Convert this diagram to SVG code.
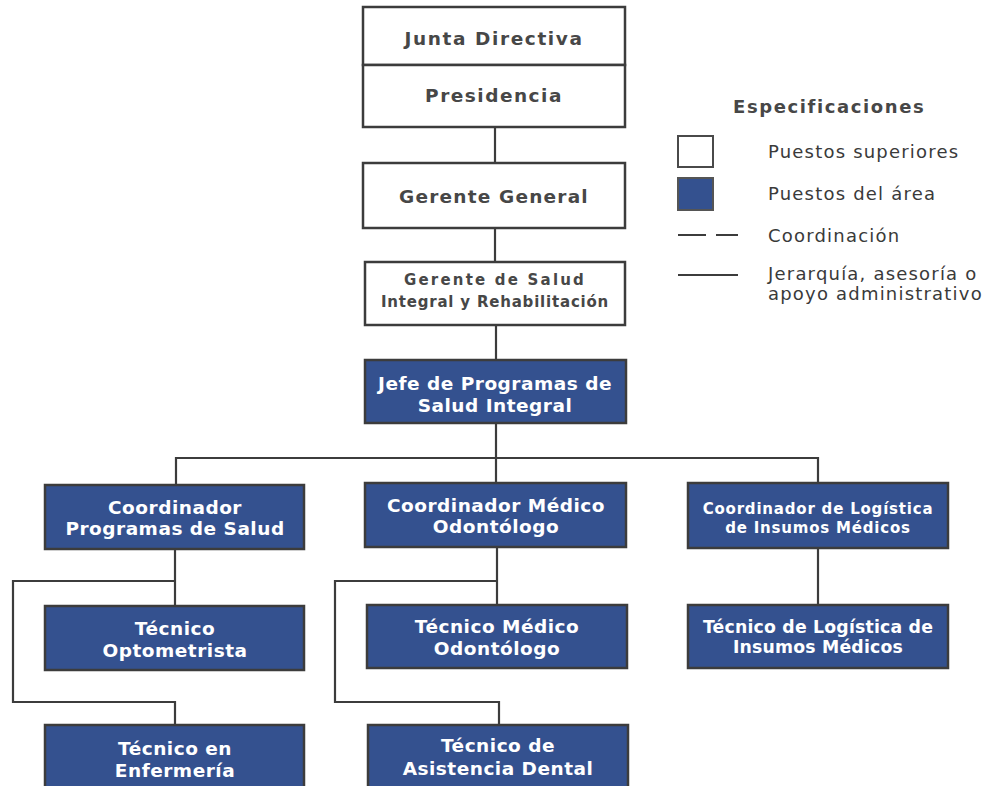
<svg xmlns="http://www.w3.org/2000/svg" width="995" height="786" viewBox="0 0 995 786">
<style>
.w{fill:#ffffff;stroke:#3c3c3c;stroke-width:2.5}
.b{fill:#34518f;stroke:#3c3c3c;stroke-width:2.5}
.tw{font-family:"DejaVu Sans",Verdana,sans-serif;font-weight:bold;fill:#474747;text-anchor:middle}
.tb{font-family:"DejaVu Sans",Verdana,sans-serif;font-weight:bold;fill:#ffffff;text-anchor:middle;font-size:18.5px;letter-spacing:0.5px}
.lg{font-family:"DejaVu Sans",Verdana,sans-serif;fill:#3a3a3a;font-size:18px;letter-spacing:1.2px}
.c{fill:none;stroke:#3c3c3c;stroke-width:2.2}
</style>
<rect width="995" height="786" fill="#ffffff"/>
<g id="connectors">
<path class="c" d="M495 127V163"/>
<path class="c" d="M495 228V262"/>
<path class="c" d="M496 325V360"/>
<path class="c" d="M496 423V483"/>
<path class="c" d="M176 485V458H818V483"/>
<path class="c" d="M175 549V606"/>
<path class="c" d="M175 581H13V702H175V725"/>
<path class="c" d="M497 547V605"/>
<path class="c" d="M497 581H335V702H499V725"/>
<path class="c" d="M818 548V605"/>
</g>
<g id="junta">
<rect class="w" x="363" y="7" width="262" height="58"/>
<text class="tw" x="494" y="45" font-size="18.5" letter-spacing="1.6">Junta Directiva</text>
</g>
<g id="presidencia">
<rect class="w" x="363" y="65" width="262" height="62"/>
<text class="tw" x="494" y="102" font-size="18.5" letter-spacing="1.5">Presidencia</text>
</g>
<g id="gerente-general">
<rect class="w" x="363" y="163" width="262" height="65"/>
<text class="tw" x="494" y="203" font-size="18.5" letter-spacing="1.2">Gerente General</text>
</g>
<g id="gerente-salud">
<rect class="w" x="365" y="262" width="260" height="63"/>
<text class="tw" x="495" y="285" font-size="15" letter-spacing="2.2">Gerente de Salud</text>
<text class="tw" x="495" y="307" font-size="15" letter-spacing="0.8">Integral y Rehabilitación</text>
</g>
<g id="jefe">
<rect class="b" x="365" y="360" width="261" height="63"/>
<text class="tb" x="495" y="390">Jefe de Programas de</text>
<text class="tb" x="495" y="412">Salud Integral</text>
</g>
<g id="coord-programas">
<rect class="b" x="45" y="485" width="259" height="64"/>
<text class="tb" x="175" y="514">Coordinador</text>
<text class="tb" x="175" y="535">Programas de Salud</text>
</g>
<g id="coord-medico">
<rect class="b" x="365" y="483" width="261" height="64"/>
<text class="tb" x="496" y="512">Coordinador Médico</text>
<text class="tb" x="496" y="533">Odontólogo</text>
</g>
<g id="coord-logistica">
<rect class="b" x="688" y="483" width="260" height="65"/>
<text class="tb" x="818" y="514" style="font-size:15px;letter-spacing:0.8px">Coordinador de Logística</text>
<text class="tb" x="818" y="533" style="font-size:15px;letter-spacing:0.8px">de Insumos Médicos</text>
</g>
<g id="tec-optometrista">
<rect class="b" x="45" y="606" width="259" height="64"/>
<text class="tb" x="175" y="635">Técnico</text>
<text class="tb" x="175" y="657">Optometrista</text>
</g>
<g id="tec-medico">
<rect class="b" x="367" y="605" width="260" height="63"/>
<text class="tb" x="497" y="633">Técnico Médico</text>
<text class="tb" x="497" y="655">Odontólogo</text>
</g>
<g id="tec-logistica">
<rect class="b" x="688" y="605" width="260" height="63"/>
<text class="tb" x="818" y="633" style="font-size:17.3px;letter-spacing:0.2px">Técnico de Logística de</text>
<text class="tb" x="818" y="653" style="font-size:17.3px;letter-spacing:0.2px">Insumos Médicos</text>
</g>
<g id="tec-enfermeria">
<rect class="b" x="45" y="725" width="259" height="70"/>
<text class="tb" x="175" y="755">Técnico en</text>
<text class="tb" x="175" y="777">Enfermería</text>
</g>
<g id="tec-dental">
<rect class="b" x="368" y="725" width="260" height="70"/>
<text class="tb" x="498" y="752">Técnico de</text>
<text class="tb" x="498" y="775">Asistencia Dental</text>
</g>
<g id="legend">
<text x="733" y="113" font-family="DejaVu Sans,Verdana,sans-serif" font-weight="bold" font-size="18" letter-spacing="1.6" fill="#474747">Especificaciones</text>
<rect x="678" y="136" width="35" height="31" fill="#ffffff" stroke="#4a4a4a" stroke-width="2"/>
<text class="lg" x="768" y="158">Puestos superiores</text>
<rect x="678" y="178" width="35" height="32" fill="#34518f" stroke="#555" stroke-width="2"/>
<text class="lg" x="768" y="200">Puestos del área</text>
<path d="M678 235H706M716 235H738" stroke="#3c3c3c" stroke-width="2.2"/>
<text class="lg" x="768" y="242">Coordinación</text>
<path d="M678 275H738" stroke="#3c3c3c" stroke-width="2.2"/>
<text class="lg" x="768" y="280">Jerarquía, asesoría o</text>
<text class="lg" x="768" y="300">apoyo administrativo</text>
</g>
</svg>
